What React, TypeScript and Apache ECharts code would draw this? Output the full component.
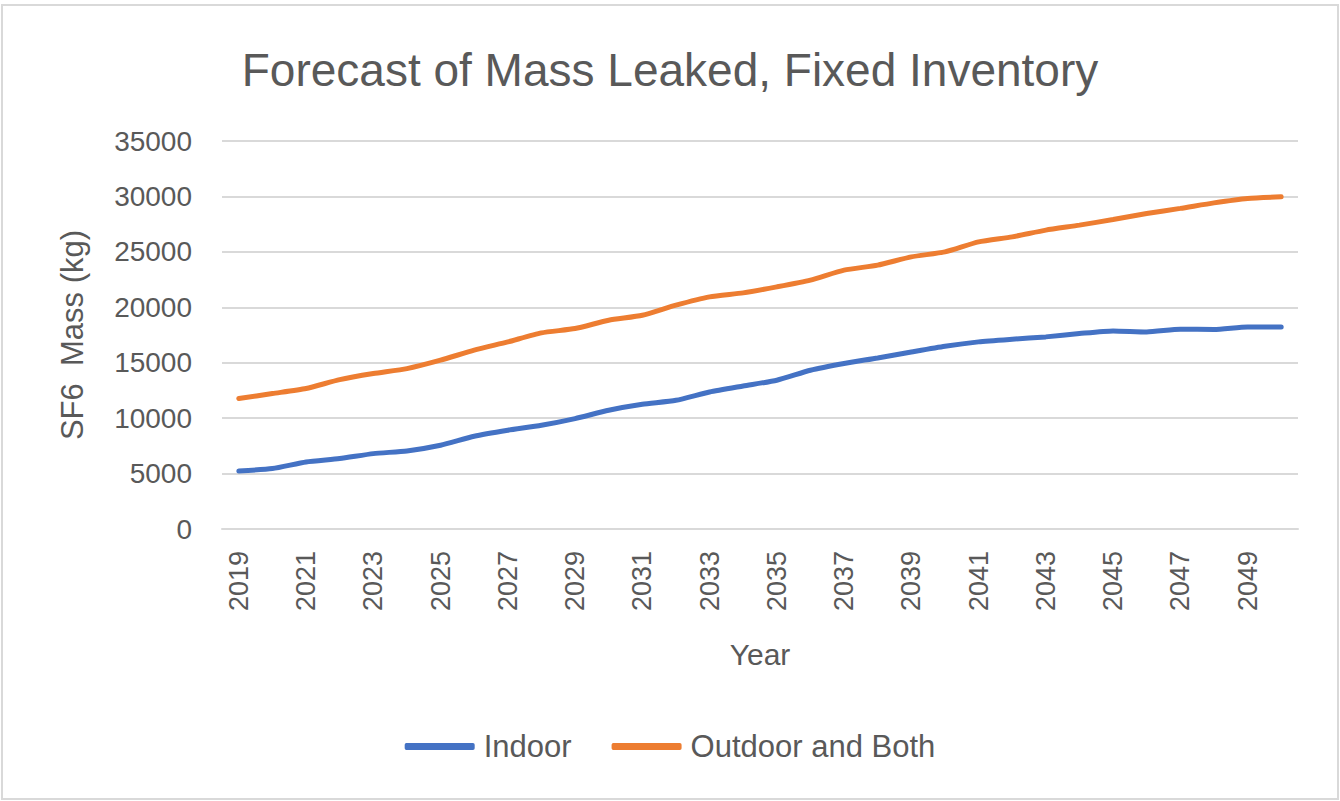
import React, { useEffect, useRef } from "react";
import * as echarts from "echarts";

const years: string[] = [];
for (let y = 2019; y <= 2050; y++) years.push(String(y));

const indoor = [
  5230, 5450, 6050, 6350, 6800, 7040, 7550, 8370, 8910, 9360, 9960, 10710, 11250, 11610, 12360, 12900,
  13420, 14320, 14930, 15430, 15970, 16490, 16880, 17120, 17330, 17630, 17870, 17780, 18020, 18000, 18230, 18230,
];
const outdoorBoth = [
  11770, 12220, 12670, 13470, 14020, 14470, 15230, 16130, 16880, 17690, 18080, 18830, 19280, 20190, 20940, 21300,
  21840, 22450, 23350, 23800, 24550, 25000, 25900, 26350, 26960, 27410, 27920, 28460, 28920, 29420, 29820, 29960,
];

const FONT = "Liberation Sans";
const TXT = "#595959";

export default function App() {
  const ref = useRef<HTMLDivElement>(null);
  useEffect(() => {
    const chart = echarts.init(ref.current!, null, { renderer: "svg" });
    chart.setOption({
      animation: false,
      backgroundColor: "#ffffff",
      textStyle: { fontFamily: FONT, color: TXT },
      title: {
        text: "Forecast of Mass Leaked, Fixed Inventory",
        left: "center",
        top: 42,
        textStyle: { fontFamily: FONT, fontSize: 46, fontWeight: "normal", color: TXT },
      },
      graphic: [
        {
          type: "rect",
          shape: { x: 2, y: 5, width: 1336, height: 794 },
          style: { fill: "none", stroke: "#d9d9d9", lineWidth: 2 },
          silent: true,
        },
      ],
      legend: {
        bottom: 34,
        left: "center",
        itemWidth: 70,
        itemHeight: 7,
        itemGap: 40,
        icon: "roundRect",
        textStyle: { fontFamily: FONT, fontSize: 31, color: TXT, padding: [0, 0, 0, 4] },
        data: ["Indoor", "Outdoor and Both"],
      },
      grid: { left: 222, right: 42, top: 141, bottom: 272, containLabel: false },
      xAxis: {
        type: "category",
        data: years,
        boundaryGap: true,
        name: "Year",
        nameLocation: "middle",
        nameGap: 110,
        nameTextStyle: { fontFamily: FONT, fontSize: 30, color: TXT },
        axisLine: { show: true, lineStyle: { color: "#d9d9d9", width: 2 } },
        axisTick: { show: false },
        axisLabel: { interval: 1, rotate: 90, margin: 22, fontFamily: FONT, fontSize: 27, color: TXT },
      },
      yAxis: {
        type: "value",
        min: 0,
        max: 35000,
        interval: 5000,
        name: "SF6  Mass (kg)",
        nameLocation: "middle",
        nameGap: 134,
        nameTextStyle: { fontFamily: FONT, fontSize: 31, color: TXT },
        axisLine: { show: false },
        axisTick: { show: false },
        axisLabel: {
          margin: 30,
          fontFamily: FONT,
          fontSize: 28,
          color: TXT,
          formatter: (v: number) => String(v),
        },
        splitLine: { lineStyle: { color: "#d9d9d9", width: 2 } },
      },
      series: [
        {
          name: "Indoor",
          type: "line",
          data: indoor,
          showSymbol: false,
          smooth: 0.2,
          lineStyle: { width: 5, color: "#4472C4", cap: "round" },
          itemStyle: { color: "#4472C4" },
        },
        {
          name: "Outdoor and Both",
          type: "line",
          data: outdoorBoth,
          showSymbol: false,
          smooth: 0.2,
          lineStyle: { width: 5, color: "#ED7D31", cap: "round" },
          itemStyle: { color: "#ED7D31" },
        },
      ],
    });
    return () => chart.dispose();
  }, []);
  return (
    <div
      ref={ref}
      style={{ position: "fixed", left: 0, top: 0, width: 1340, height: 801 }}
    />
  );
}
